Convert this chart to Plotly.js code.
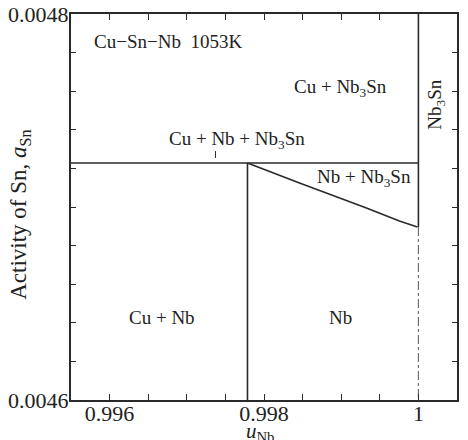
<!DOCTYPE html>
<html>
<head>
<meta charset="utf-8">
<script src="https://cdn.plot.ly/plotly-3.0.1.min.js"></script>
<style>html,body{margin:0;padding:0;background:#fff;}#chart{width:468px;height:440px;}</style>
</head>
<body>
<div id="chart"></div>
<script>
// Phase boundary data (u_Nb, a_Sn)
const boundaryCuNbX = [0.9955, 1.0];          // Cu+Nb+Nb3Sn three-phase line
const boundaryCuNbY = [0.0047228, 0.0047228];
const nbLeftX = [0.997786, 0.997786];          // Cu+Nb / Nb boundary
const nbLeftY = [0.0047228, 0.0046];
const nbNb3SnX = [0.997786, 0.998460, 0.999327, 0.999754, 0.999987]; // Nb / Nb+Nb3Sn
const nbNb3SnY = [0.0047228, 0.0047124, 0.0046995, 0.0046927, 0.0046896];
const nb3SnX = [1.0, 1.0];                     // Nb3Sn line (solid)
const nb3SnY = [0.0048, 0.0046896];
const dashX = [1.0, 1.0];                      // dash-dot continuation
const dashY = [0.0046896, 0.0046];
const markX = [0.997372, 0.997372];            // small label tick
const markY = [0.0047290, 0.0047254];

const xTickVals = [0.996, 0.9965, 0.997, 0.9975, 0.998, 0.9985, 0.999, 0.9995, 1.0];
const xTickText = ['0.996', '', '', '', '0.998', '', '', '', '1'];
const yTickVals = [0.0046, 0.00462, 0.00464, 0.00466, 0.00468, 0.0047, 0.00472, 0.00474, 0.00476, 0.00478, 0.0048];
const yTickText = ['0.0046', '', '', '', '', '', '', '', '', '', '0.0048'];

const lineCol = '#2a2a2a';
const serif = '"Liberation Serif", "Times New Roman", serif';

const ln = (x, y, extra) => Object.assign({x: x, y: y, mode: 'lines', type: 'scatter', hoverinfo: 'skip',
  line: {color: lineCol, width: 1.6}, showlegend: false}, extra || {});

const traces = [
  ln(boundaryCuNbX, boundaryCuNbY),
  ln(nbLeftX, nbLeftY),
  ln(nbNb3SnX, nbNb3SnY),
  ln(nb3SnX, nb3SnY),
  ln(dashX, dashY, {line: {color: '#666', width: 1.1, dash: 'dashdot'}}),
  ln(markX, markY, {line: {color: lineCol, width: 1}})
];

const lab = (text, x, y, extra) => Object.assign({text: text, x: x, y: y, xref: 'x', yref: 'y',
  showarrow: false, font: {family: serif, size: 19, color: '#222'}}, extra || {});

const layout = {
  width: 468, height: 440,
  margin: {l: 71, r: 11, t: 14, b: 40},
  paper_bgcolor: '#fff', plot_bgcolor: '#fff',
  font: {family: serif, color: '#222'},
  xaxis: {
    range: [0.9955, 1.0005], showgrid: false, zeroline: false,
    showline: true, linecolor: lineCol, linewidth: 2, mirror: 'ticks',
    ticks: 'inside', ticklen: 6, tickwidth: 1, tickcolor: lineCol,
    tickmode: 'array', tickvals: xTickVals, ticktext: xTickText,
    ticklabelstandoff: -7,
    tickfont: {family: serif, size: 22, color: '#222'}
  },
  yaxis: {
    range: [0.0046, 0.0048], showgrid: false, zeroline: false,
    showline: true, linecolor: lineCol, linewidth: 2, mirror: 'ticks',
    ticks: 'inside', ticklen: 5, tickwidth: 1, tickcolor: lineCol,
    tickmode: 'array', tickvals: yTickVals, ticktext: yTickText,
    ticklabelstandoff: -4,
    tickfont: {family: serif, size: 22, color: '#222'}
  },
  annotations: [
    {text: 'Activity of Sn, <i>a</i><sub>Sn</sub>', xref: 'paper', yref: 'paper', x: -0.132, y: 0.48,
     xanchor: 'center', yanchor: 'middle', textangle: -90,
     showarrow: false, font: {family: serif, size: 23, color: '#222'}},
    {text: '<i>u</i><sub>Nb</sub>', xref: 'paper', yref: 'paper', x: 0.49, y: -0.082, yanchor: 'middle',
     showarrow: false, font: {family: serif, size: 21, color: '#222'}},
    lab('Cu\u2212Sn\u2212Nb  1053K', 0.995772, 0.0047855, {xanchor: 'left', font: {family: serif, size: 19, color: '#222'}}),
    lab('Cu + Nb<sub>3</sub>Sn', 0.998995, 0.0047617),
    lab('Cu + Nb + Nb<sub>3</sub>Sn', 0.997649, 0.0047347),
    lab('Nb + Nb<sub>3</sub>Sn', 0.999293, 0.0047150),
    lab('Cu + Nb', 0.996678, 0.0046425),
    lab('Nb', 0.998995, 0.0046425),
    lab('Nb<sub>3</sub>Sn', 1.000225, 0.0047529, {textangle: -90})
  ]
};

Plotly.newPlot('chart', traces, layout, {displayModeBar: false, staticPlot: true});
</script>
</body>
</html>
